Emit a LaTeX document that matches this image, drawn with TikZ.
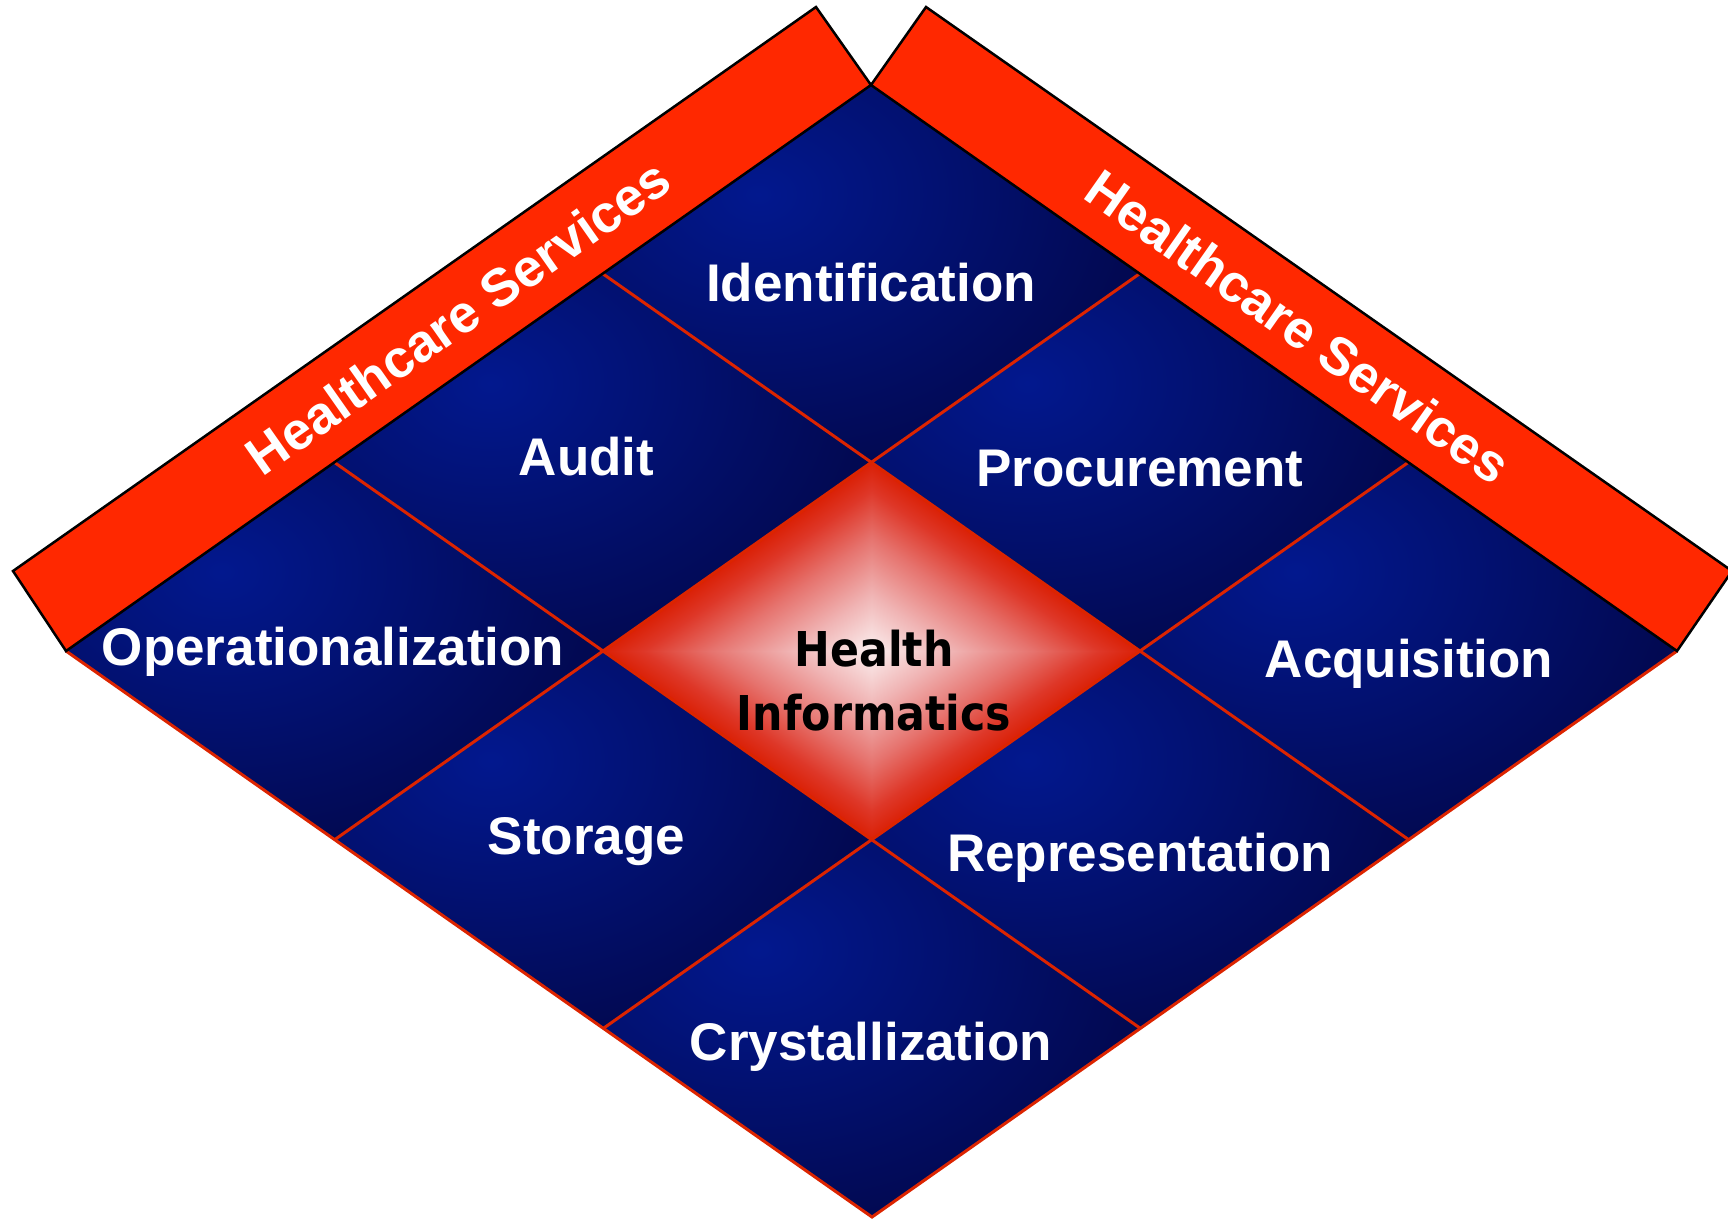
\documentclass[tikz,border=0pt]{standalone}
\usepackage{fontspec}
\setmainfont{Liberation Sans}
\newfontfamily\hifont[FakeStretch=0.89]{DejaVu Sans}
\usetikzlibrary{calc}
\definecolor{bandred}{RGB}{255,40,0}
\definecolor{gridred}{RGB}{220,36,0}
\definecolor{bluelight}{RGB}{2,24,142}
\definecolor{bluedark}{RGB}{2,9,82}
\pgfdeclareverticalshading{hishade}{100bp}{rgb(0bp)=(0.855,0.125,0.02); rgb(37.5bp)=(0.855,0.125,0.02); rgb(39.4bp)=(0.871,0.216,0.157); rgb(42.5bp)=(0.902,0.451,0.431); rgb(46.25bp)=(0.941,0.706,0.706); rgb(50bp)=(0.984,0.937,0.937); rgb(53.75bp)=(0.941,0.706,0.706); rgb(57.5bp)=(0.902,0.451,0.431); rgb(60.6bp)=(0.871,0.216,0.157); rgb(62.5bp)=(0.855,0.125,0.02); rgb(100bp)=(0.855,0.125,0.02)}
\pgfdeclareradialshading{hiradial}{\pgfpoint{0bp}{0bp}}{rgb(0bp)=(0.984,0.937,0.937); rgb(7.5bp)=(0.941,0.706,0.706); rgb(15bp)=(0.902,0.451,0.431); rgb(21.25bp)=(0.871,0.216,0.157); rgb(25bp)=(0.855,0.125,0.02); rgb(50bp)=(0.855,0.125,0.02)}
\begin{document}
\begin{tikzpicture}[x=1pt,y=-1pt,
  lbl/.style={text=white, font=\fontsize{53}{60}\selectfont\bfseries, anchor=base, inner sep=0pt},
  bandtxt/.style={text=white, font=\fontsize{53}{60}\selectfont\bfseries, anchor=center, inner sep=0pt},
  hilbl/.style={text=black, font=\hifont\fontsize{48}{56}\selectfont\bfseries, anchor=base, inner sep=0pt},
  band/.style={fill=bandred, draw=black, line width=2.5pt, line join=miter},
  gridline/.style={draw=gridred, line width=3pt}]
\useasboundingbox (0,0) rectangle (1728,1218);
% lattice points
\foreach \i in {0,...,3}{\foreach \j in {0,...,3}{%
  \coordinate (p\i\j) at ({871+268.67*\i-268.33*\j},{85+188.67*(\i+\j)});}}
% blue cells
\foreach \i/\j in {0/0,1/0,2/0,0/1,2/1,0/2,1/2,2/2}{%
  \pgfmathtruncatemacro\ia{\i+1}
  \pgfmathtruncatemacro\ja{\j+1}
  \begin{scope}
    \clip (p\i\j) -- (p\ia\j) -- (p\ia\ja) -- (p\i\ja) -- cycle;
    \fill[bluedark] (p\i\j) -- (p\ia\j) -- (p\ia\ja) -- (p\i\ja) -- cycle;
    \shade[inner color=bluelight, outer color=bluedark] ($(p\i\j)+(-112.7,109.4)$) ellipse [x radius=380pt, y radius=280pt];
  \end{scope}
}
% centre diamond
\coordinate (hc) at ($(p11)!0.5!(p22)$);
\begin{scope}
  \clip (p11) -- (p21) -- (p22) -- (p12) -- cycle;
  \shade[shading=hiradial] (hc) ellipse [x radius=268.67pt, y radius=188.67pt];
\end{scope}
\foreach \a/\b/\ang in {p11/p21/-35.1, p11/p12/35.1, p12/p22/144.9, p22/p21/215.1}{%
  \begin{scope}
    \clip (hc) -- (\a) -- (\b) -- cycle;
    \shade[shading=hishade, shading angle=\ang] ($(hc)+(-310,-310)$) rectangle ($(hc)+(310,310)$);
  \end{scope}
}
% red grid lines
\draw[gridline] (p10) -- (p13);
\draw[gridline] (p20) -- (p23);
\draw[gridline] (p01) -- (p31);
\draw[gridline] (p02) -- (p32);
\draw[gridline] (p03) -- (p33) -- (p30);
% bands
\coordinate (la) at (816,7);
\coordinate (lb) at (13,571);
\coordinate (ra) at (926,7);
\coordinate (rb) at (1732,571);
\draw[band] (p00) -- (p03) -- (lb) -- (la) -- cycle;
\draw[band] (p00) -- (ra) -- (rb) -- (p30) -- cycle;
\node[bandtxt, rotate=35.1] (hsl) at (458,316.7) {Healthcare Services};
\node[bandtxt, rotate=-35.1] (hsr) at (1298,326.5) {Healthcare Services};
% labels
\node[lbl] (ident) at (871,301) {Identification};
\node[lbl] (audit) at (586.5,475) {Audit};
\node[lbl] (procure) at (1140,486) {Procurement};
\node[lbl] (oper) at (333,665) {Operationalization};
\node[lbl] (acq) at (1409,677) {Acquisition};
\node[lbl] (stor) at (586.5,854) {Storage};
\node[lbl] (repr) at (1140,871) {Representation};
\node[lbl] (cryst) at (871,1060) {Crystallization};
\node[hilbl] (hi1) at (874,666) {Health};
\node[hilbl] (hi2) at (874,730) {Informatics};
\end{tikzpicture}
\end{document}
